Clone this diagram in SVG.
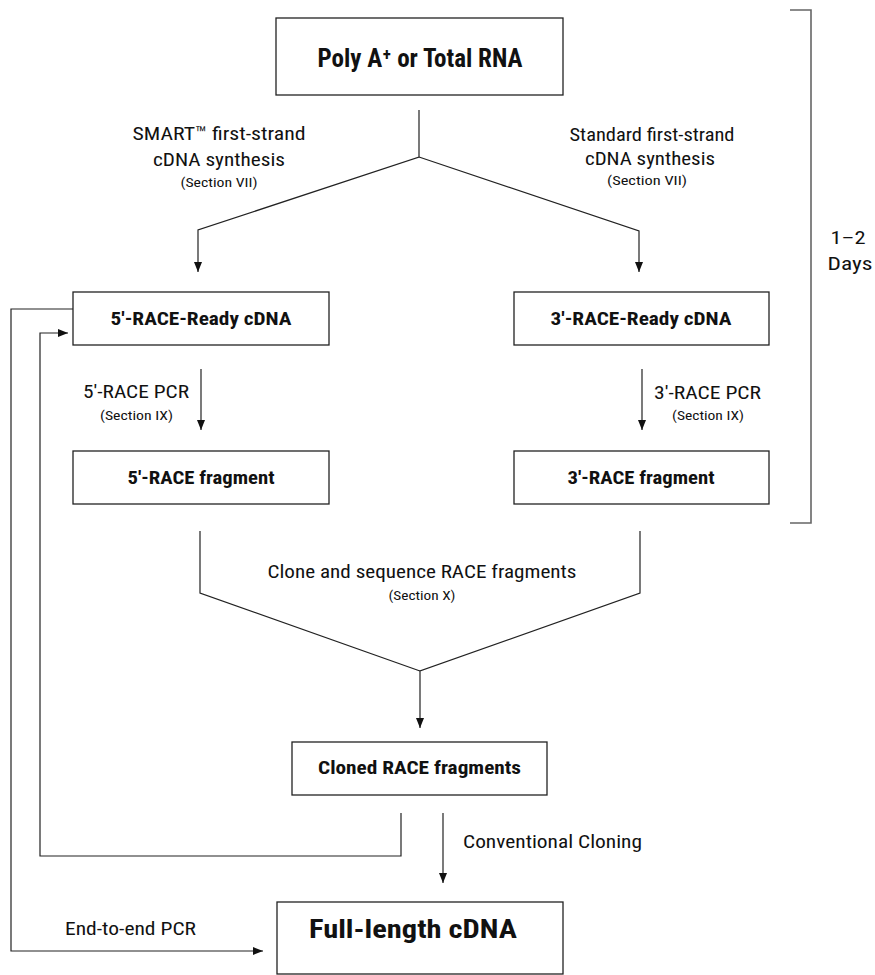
<svg xmlns="http://www.w3.org/2000/svg" width="875" height="975" viewBox="0 0 875 975">
<defs>
<marker id="arr" markerUnits="userSpaceOnUse" markerWidth="12" markerHeight="12" refX="10" refY="4" orient="auto">
<path d="M0,0 L10,4 L0,8 Z" fill="#111"/>
</marker>
<style>
.box{fill:#fff;stroke:#222;stroke-width:1.3}
.ln{fill:none;stroke:#222;stroke-width:1.2}
.br{fill:none;stroke:#666;stroke-width:1.6}
text{font-family:"Liberation Sans Narrow","Roboto Condensed","Liberation Sans",Arial,sans-serif;fill:#111;text-anchor:middle}
.b{font-weight:bold;font-size:19px}
.big{font-weight:bold;font-size:26px}
.r{font-size:19px}
.s{font-size:12.5px}
</style>
</defs>
<rect width="875" height="975" fill="#fff"/>
<g id="connectors">
<path class="ln" d="M419,110 V157 L198,230 V272" marker-end="url(#arr)"/>
<path class="ln" d="M419,157 L639,231 V272" marker-end="url(#arr)"/>
<path class="ln" d="M201,369 V430" marker-end="url(#arr)"/>
<path class="ln" d="M642,369 V430" marker-end="url(#arr)"/>
<path class="ln" d="M200,531 V593 L420,671"/>
<path class="ln" d="M640,531 V593 L420,671 V728" marker-end="url(#arr)"/>
<path class="ln" d="M401,813 V856 H40 V333 H68" marker-end="url(#arr)"/>
<path class="ln" d="M73,309 H11 V951 H263" marker-end="url(#arr)"/>
<path class="ln" d="M443,813 V883" marker-end="url(#arr)"/>
</g>
<g id="bracket">
<path class="br" d="M790,10 H811 V523 H790"/>
<text class="r" x="848" y="244" textLength="35" lengthAdjust="spacingAndGlyphs">1–2</text>
<text class="r" x="850" y="270" textLength="45" lengthAdjust="spacingAndGlyphs">Days</text>
</g>
<g id="n-rna">
<rect class="box" x="276" y="18" width="287" height="77"/>
<text class="big" x="420" y="67" textLength="205" lengthAdjust="spacingAndGlyphs">Poly A⁺ or Total RNA</text>
</g>
<g id="lbl-smart">
<text class="r" x="219" y="140" textLength="173" lengthAdjust="spacingAndGlyphs">SMART™ first-strand</text>
<text class="r" x="219" y="166" textLength="132" lengthAdjust="spacingAndGlyphs">cDNA synthesis</text>
<text class="s" x="219" y="187" textLength="77" lengthAdjust="spacingAndGlyphs">(Section VII)</text>
</g>
<g id="lbl-standard">
<text class="r" x="652" y="141" textLength="165" lengthAdjust="spacingAndGlyphs">Standard first-strand</text>
<text class="r" x="650" y="165" textLength="130" lengthAdjust="spacingAndGlyphs">cDNA synthesis</text>
<text class="s" x="647" y="185" textLength="80" lengthAdjust="spacingAndGlyphs">(Section VII)</text>
</g>
<g id="n-5ready">
<rect class="box" x="73" y="292" width="256" height="53"/>
<text class="b" x="201" y="325" textLength="181" lengthAdjust="spacingAndGlyphs">5'-RACE-Ready cDNA</text>
</g>
<g id="n-3ready">
<rect class="box" x="514" y="292" width="255" height="53"/>
<text class="b" x="641" y="325" textLength="181" lengthAdjust="spacingAndGlyphs">3'-RACE-Ready cDNA</text>
</g>
<g id="lbl-5pcr">
<text class="r" x="136" y="398" textLength="106" lengthAdjust="spacingAndGlyphs">5'-RACE PCR</text>
<text class="s" x="136.5" y="420" textLength="73" lengthAdjust="spacingAndGlyphs">(Section IX)</text>
</g>
<g id="lbl-3pcr">
<text class="r" x="707.5" y="399" textLength="107" lengthAdjust="spacingAndGlyphs">3'-RACE PCR</text>
<text class="s" x="708" y="420" textLength="72" lengthAdjust="spacingAndGlyphs">(Section IX)</text>
</g>
<g id="n-5frag">
<rect class="box" x="73" y="451" width="256" height="53"/>
<text class="b" x="201" y="484" textLength="147" lengthAdjust="spacingAndGlyphs">5'-RACE fragment</text>
</g>
<g id="n-3frag">
<rect class="box" x="514" y="451" width="255" height="53"/>
<text class="b" x="641" y="484" textLength="147" lengthAdjust="spacingAndGlyphs">3'-RACE fragment</text>
</g>
<g id="lbl-clone">
<text class="r" x="422" y="578" textLength="309" lengthAdjust="spacingAndGlyphs">Clone and sequence RACE fragments</text>
<text class="s" x="422" y="600" textLength="67" lengthAdjust="spacingAndGlyphs">(Section X)</text>
</g>
<g id="n-cloned">
<rect class="box" x="292" y="742" width="255" height="53"/>
<text class="b" x="419.5" y="774" textLength="203" lengthAdjust="spacingAndGlyphs">Cloned RACE fragments</text>
</g>
<g id="lbl-conv">
<text class="r" x="552.5" y="848" textLength="179" lengthAdjust="spacingAndGlyphs">Conventional Cloning</text>
</g>
<g id="lbl-e2e">
<text class="r" x="130.5" y="935" textLength="131" lengthAdjust="spacingAndGlyphs">End-to-end PCR</text>
</g>
<g id="n-full">
<rect class="box" x="277" y="902" width="286" height="72"/>
<text class="big" x="413" y="938" textLength="208" lengthAdjust="spacingAndGlyphs">Full-length cDNA</text>
</g>
</svg>
